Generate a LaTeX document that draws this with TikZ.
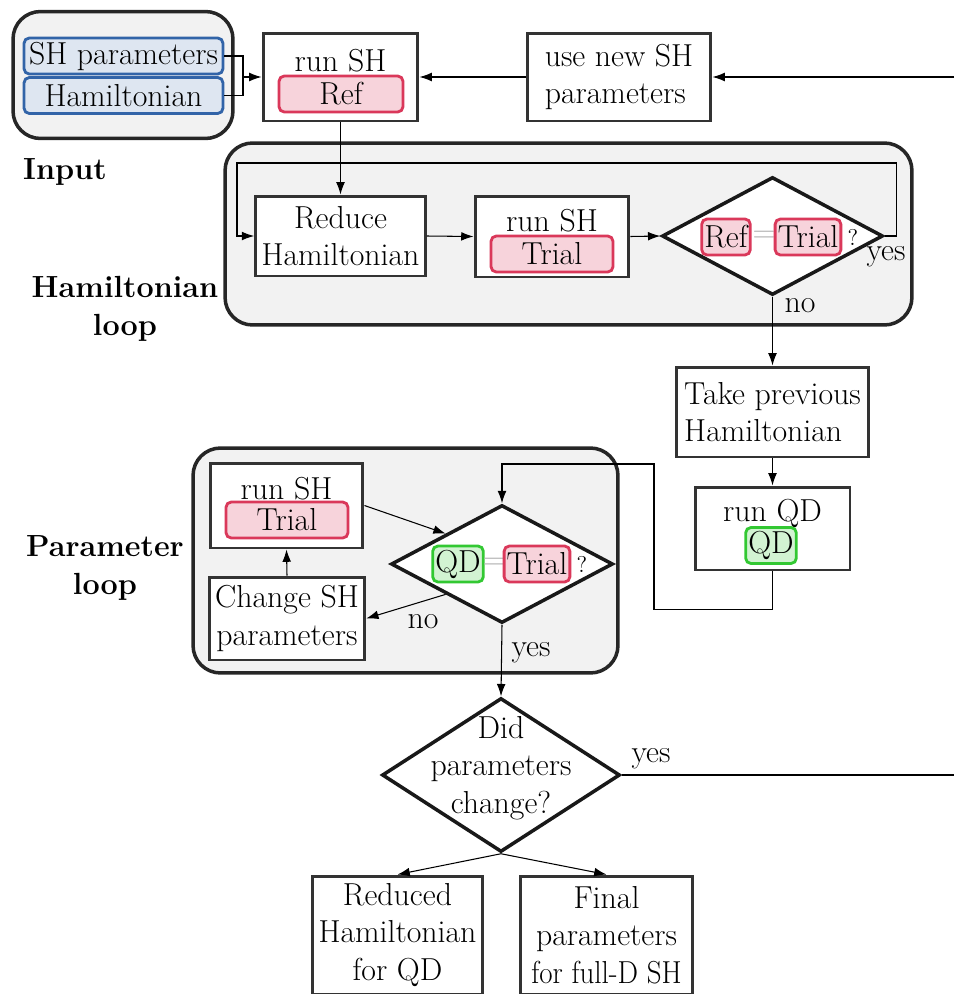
\documentclass[tikz,border=0pt]{standalone}
\usetikzlibrary{shapes.geometric,arrows.meta}
\definecolor{tagred}{RGB}{218,56,90}
\definecolor{tagblue}{RGB}{50,100,168}
\definecolor{taggreen}{RGB}{50,200,50}
\begin{document}
\begin{tikzpicture}[x=0.02cm, y=-0.02cm,
    every node/.append style={font=\fontsize{18.1}{21.5}\selectfont},
    >={Latex[length=7pt,width=5pt]},
    procbox/.style={draw=black!80, line width=1.7pt, fill=white, align=center},
    decision/.style={diamond, draw=black!90, line width=2pt, fill=white, inner sep=0pt},
    loopbox/.style={draw=black!85, line width=2pt, fill=gray!10, rounded corners=0.55cm},
    tagbox/.style={line width=1.6pt, rounded corners=3pt, minimum height=0.72cm, inner xsep=1.5pt, inner ysep=0pt},
    redtag/.style={tagbox, draw=tagred, fill=tagred!22},
    bluetag/.style={tagbox, draw=tagblue, fill=tagblue!16},
    greentag/.style={tagbox, draw=taggreen, fill=taggreen!22},
    looplabel/.style={font=\fontsize{17.4}{21.5}\selectfont\bfseries, align=center},
    qmark/.style={font=\fontsize{13}{15}\selectfont},
    link/.style={line width=0.6pt}]
    \useasboundingbox (0,0) rectangle (954,994);

    % Input
    \node[loopbox, minimum width=4.4cm, minimum height=2.54cm] (input) at (123,75) {};
    \node[bluetag, minimum width=3.98cm] (shpar) at (123.5,56) {SH parameters};
    \node[bluetag, minimum width=3.98cm] (hamin) at (123.5,95.5) {Hamiltonian};
    \node[looplabel] (inputlbl) at (65,172) {Input};

    % Reference run and new parameters
    \node[procbox, minimum width=3.1cm, minimum height=1.76cm] (runref) at (340.5,77) {};
    \node (runreftxt) at (340.5,61) {run SH};
    \node[redtag, minimum width=2.48cm] (ref) at (341,94) {Ref};
    \node[procbox, align=left, minimum width=3.68cm, minimum height=1.76cm] (usenew) at (619,77) {use new SH\\parameters};

    % Hamiltonian loop
    \node[loopbox, minimum width=13.74cm, minimum height=3.64cm] (hamloop) at (568.5,234) {};
    \node[looplabel] (hamlbl) at (125,309) {Hamiltonian\\loop};
    \node[procbox, minimum width=3.38cm, minimum height=1.6cm] (reduce) at (340.5,236) {Reduce\\Hamiltonian};
    \node[procbox, minimum width=3.08cm, minimum height=1.62cm] (runtrial) at (552,236.5) {};
    \node (runtrialtxt) at (552,221) {run SH};
    \node[redtag, minimum width=2.44cm] (trial) at (552,254) {Trial};
    \node[decision, minimum width=4.42cm, minimum height=2.36cm] (refdiam) at (772.5,236) {};
    \node[redtag] (refa) at (726,237) {Ref};
    \node[text=gray!60] (refeq) at (764,237) {=};
    \node[redtag] (trialb) at (808,237) {Trial};
    \node[qmark] (refq) at (853,237) {?};

    % Quantum dynamics
    \node[procbox, align=left, minimum width=3.86cm, minimum height=1.8cm] (takeprev) at (772.5,412) {Take previous\\Hamiltonian};
    \node[procbox, minimum width=3.1cm, minimum height=1.66cm] (runqd) at (772.5,528.5) {};
    \node (runqdtxt) at (772.5,513) {run QD};
    \node[greentag] (qd) at (771,545.5) {QD};

    % Parameter loop
    \node[loopbox, minimum width=8.5cm, minimum height=4.5cm] (parloop) at (405.5,560.5) {};
    \node[looplabel] (parlbl) at (105,568) {Parameter\\loop};
    \node[procbox, minimum width=3.06cm, minimum height=1.7cm] (ptrial) at (286.5,505.5) {};
    \node (ptrialtxt) at (286.5,489) {run SH};
    \node[redtag, minimum width=2.44cm] (ptrialtag) at (287,520) {Trial};
    \node[procbox, minimum width=3.08cm, minimum height=1.66cm] (change) at (287,618.5) {Change SH\\parameters};
    \node[decision, minimum width=4.44cm, minimum height=2.36cm] (qddiam) at (502,564) {};
    \node[greentag] (qdb) at (458,564) {QD};
    \node[text=gray!60] (qdeq) at (494,564) {=};
    \node[redtag] (trialc) at (537,564) {Trial};
    \node[qmark] (qdq) at (582,564) {?};

    % Outcome
    \node[decision, minimum width=4.76cm, minimum height=3.08cm] (did) at (501,775) {};
    \node[align=center] (didtxt) at (501,768) {Did\\parameters\\change?};
    \node[procbox, minimum width=3.42cm, minimum height=2.36cm] (reduced) at (397.5,935) {Reduced\\Hamiltonian\\for QD};
    \node[procbox, inner xsep=1pt, minimum width=3.46cm, minimum height=2.36cm] (final) at (606.5,935) {Final\\parameters\\\scalebox{0.91}[1]{for full-D SH}};

    % Connectors
    \coordinate (join) at (243,77);
    \coordinate (rightin) at (954,77);
    \coordinate (hloop) at (237,163);
    \coordinate (qloop) at (654,464);
    \coordinate (rightout) at (954,775);
    \draw[link] (shpar.east) -| (join) |- (hamin.east);
    \draw[link, ->] (join) -- (runref.west);
    \draw[link, ->] (usenew.west) -- (runref.east);
    \draw[link, ->] (rightin) -- (usenew.east);
    \draw[link, ->] (runref.south) -- (reduce.north);
    \draw[link, ->] (reduce.east) -- (runtrial.west);
    \draw[link, ->] (runtrial.east) -- (refdiam.west);
    \draw[link, ->] (refdiam.east) -- ++(12,0) |- (hloop) |- (reduce.west);
    \draw[link, ->] (refdiam.south) -- (takeprev.north);
    \draw[link, ->] (takeprev.south) -- (runqd.north);
    \draw[link, ->] (runqd.south) -- ++(0,38) -| (qloop) -| (qddiam.north);
    \draw[link, ->] (ptrial.east) -- (qddiam.north west);
    \draw[link, ->] (qddiam.south west) -- (change.east);
    \draw[link, ->] (change.north) -- (ptrial.south);
    \draw[link, ->] (qddiam.south) -- (did.north);
    \draw[link] (did.east) -- (rightout);
    \draw[link, ->] (did.south) -- (reduced.north);
    \draw[link, ->] (did.south) -- (final.north);

    % Labels
    \node (yesa) at (886,257) {yes};
    \node (noa) at (800,306) {no};
    \node (nob) at (423,622) {no};
    \node (yesb) at (531,653) {yes};
    \node (yesc) at (651,759) {yes};
\end{tikzpicture}
\end{document}
